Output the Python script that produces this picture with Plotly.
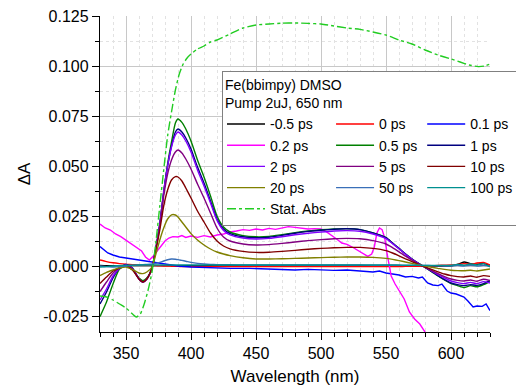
import plotly.graph_objects as go

# ---------------- data ----------------
wl = [330, 335, 340, 345, 350, 355, 360, 363, 366, 370, 373, 376, 379, 382, 385, 388,
      390, 393, 396, 400, 405, 410, 415, 420, 425, 430, 440, 450, 460, 470, 480, 490,
      500, 510, 520, 530, 540, 550, 555, 560, 565, 570, 575, 580, 585, 590, 595, 600,
      605, 610, 615, 620, 625, 630]

d_m05 = [0.0003, 0.0002, 0.0002, 0.0002, 0.0002, 0.0002, 0.0002, 0.0002, 0.0002, 0.0002,
         0.0002, 0.0002, 0.0002, 0.0002, 0.0002, 0.0002, 0.0002, 0.0002, 0.0002, 0.0002,
         0.0002, 0.0002, 0.0002, 0.0002, 0.0002, 0.0002, 0.0002, 0.0002, 0.0002, 0.0002,
         0.0002, 0.0002, 0.0002, 0.0002, 0.0002, 0.0002, 0.0002, 0.0002, 0.0002, 0.0002,
         0.0002, 0.0002, 0.0002, 0.0001, 0.0, 0.0, 0.0, 0.0,
         0.0008, 0.0020, 0.0012, 0.0008, 0.0012, 0.0002]

d_0 = [0.0030, 0.0022, 0.0016, 0.0012, 0.0009, 0.0007, 0.0005, 0.0004, 0.0004, 0.0003,
       0.0002, 0.0001, 0.0, 0.0, -0.0001, -0.0002, -0.0002, -0.0003, -0.0003, -0.0003,
       -0.0003, -0.0003, -0.0003, -0.0003, -0.0003, -0.0003, -0.0003, -0.0003, -0.0003, -0.0003,
       -0.0003, -0.0003, -0.0003, -0.0003, -0.0003, -0.0003, -0.0003, -0.0003, -0.0003, -0.0003,
       -0.0002, -0.0002, -0.0001, 0.0, 0.0001, 0.0003, 0.0004, 0.0005,
       0.0008, 0.0012, 0.0008, 0.0015, 0.0018, 0.0005]

wl_01 = [330, 333, 336, 340, 345, 350, 355, 360, 365, 370, 375, 380, 385, 390, 400, 410,
         420, 430, 445, 460, 470, 480, 490, 500, 510, 520, 530, 540, 545, 550, 555, 560,
         565, 570, 575, 578, 582, 586, 590, 593, 597, 600, 604, 607, 610, 613, 617, 620,
         624, 627, 630]
d_01 = [0.0097, 0.0080, 0.0065, 0.0055, 0.0045, 0.0040, 0.0035, 0.0030, 0.0025, 0.0020,
        0.0015, 0.0010, 0.0005, 0.0, -0.0005, -0.0008, -0.0010, -0.0012, -0.0012, -0.0015,
        -0.0015, -0.0020, -0.0017, -0.0020, -0.0022, -0.0020, -0.0025, -0.0030, -0.0025, -0.0035,
        -0.0040, -0.0045, -0.0055, -0.0052, -0.0060, -0.0055, -0.0085, -0.0095, -0.0098, -0.0090,
        -0.0125, -0.0135, -0.0140, -0.0148, -0.0155, -0.0175, -0.0205, -0.0200, -0.0202, -0.0190,
        -0.0223]

wl_02 = [330, 334, 338, 342, 346, 350, 354, 358, 362, 365, 368, 371, 374, 377, 380, 383,
         386, 390, 393, 396, 400, 405, 410, 415, 420, 425, 430, 435, 440, 445, 450, 455,
         460, 465, 470, 475, 480, 485, 490, 495, 500, 504, 508, 512, 516, 520, 524, 528,
         532, 536, 539, 541, 543, 545, 547, 549, 551, 554, 557, 560, 564, 568, 572, 576,
         578, 581]
d_02 = [0.0210, 0.0190, 0.0180, 0.0160, 0.0147, 0.0130, 0.0113, 0.0095, 0.0075, 0.0045,
        0.0030, 0.0050, 0.0075, 0.0100, 0.0125, 0.0140, 0.0147, 0.0145, 0.0152, 0.0143,
        0.0150, 0.0143, 0.0152, 0.0145, 0.0155, 0.0160, 0.0170, 0.0175, 0.0182, 0.0178,
        0.0185, 0.0180, 0.0188, 0.0183, 0.0190, 0.0197, 0.0193, 0.0190, 0.0185, 0.0187,
        0.0185, 0.0172, 0.0155, 0.0135, 0.0115, 0.0108, 0.0095, 0.0080, 0.0065, 0.0048,
        0.0060, 0.0095, 0.0165, 0.0190, 0.0182, 0.0140, 0.0055, -0.0050, -0.0090, -0.0120,
        -0.0165, -0.0230, -0.0265, -0.0290, -0.0310, -0.0340]

d_05 = [-0.0253, -0.0180, -0.0090, -0.0015, 0.0, -0.0020, -0.0060, -0.0073, -0.0060, -0.0010,
        0.0090, 0.0210, 0.0370, 0.0510, 0.0620, 0.0715, 0.0735, 0.0718, 0.0685, 0.0625,
        0.0530, 0.0445, 0.0350, 0.0250, 0.0195, 0.0170, 0.0152, 0.0146, 0.0148, 0.0157,
        0.0167, 0.0175, 0.0181, 0.0185, 0.0187, 0.0182, 0.0165, 0.0142, 0.0115, 0.0088,
        0.0060, 0.0035, 0.0013, -0.0007, -0.0028, -0.0050, -0.0070, -0.0088,
        -0.0098, -0.0108, -0.0098, -0.0104, -0.0093, -0.0078]

d_1 = [-0.0190, -0.0130, -0.0060, -0.0010, 0.0008, -0.0010, -0.0065, -0.0080, -0.0065, -0.0010,
       0.0090, 0.0210, 0.0370, 0.0500, 0.0600, 0.0670, 0.0685, 0.0670, 0.0640, 0.0585,
       0.0495, 0.0415, 0.0325, 0.0235, 0.0185, 0.0162, 0.0146, 0.0141, 0.0144, 0.0153,
       0.0164, 0.0173, 0.0179, 0.0184, 0.0186, 0.0182, 0.0166, 0.0142, 0.0115, 0.0088,
       0.0060, 0.0035, 0.0013, -0.0007, -0.0027, -0.0048, -0.0068, -0.0085,
       -0.0093, -0.0098, -0.0093, -0.0097, -0.0088, -0.0072]

d_2 = [-0.0170, -0.0115, -0.0050, -0.0012, 0.0005, -0.0015, -0.0065, -0.0080, -0.0065, -0.0010,
       0.0090, 0.0210, 0.0370, 0.0500, 0.0595, 0.0655, 0.0670, 0.0655, 0.0625, 0.0570,
       0.0480, 0.0400, 0.0315, 0.0228, 0.0178, 0.0156, 0.0140, 0.0135, 0.0138, 0.0146,
       0.0156, 0.0164, 0.0170, 0.0175, 0.0177, 0.0174, 0.0160, 0.0137, 0.0112, 0.0086,
       0.0058, 0.0034, 0.0012, -0.0006, -0.0024, -0.0043, -0.0060, -0.0075,
       -0.0083, -0.0088, -0.0082, -0.0088, -0.0078, -0.0085]

d_5 = [-0.0128, -0.0080, -0.0035, -0.0008, 0.0003, -0.0015, -0.0065, -0.0080, -0.0065, -0.0010,
       0.0085, 0.0200, 0.0350, 0.0460, 0.0530, 0.0570, 0.0580, 0.0565, 0.0535, 0.0485,
       0.0410, 0.0340, 0.0265, 0.0190, 0.0145, 0.0125, 0.0110, 0.0105, 0.0107, 0.0113,
       0.0120, 0.0127, 0.0132, 0.0136, 0.0138, 0.0136, 0.0127, 0.0110, 0.0092, 0.0071,
       0.0049, 0.0029, 0.0010, -0.0006, -0.0022, -0.0038, -0.0053, -0.0065,
       -0.0072, -0.0075, -0.0070, -0.0076, -0.0066, -0.0072]

d_10 = [-0.0087, -0.0055, -0.0025, -0.0010, 0.0, -0.0020, -0.0065, -0.0080, -0.0065, -0.0010,
        0.0080, 0.0180, 0.0300, 0.0380, 0.0430, 0.0447, 0.0445, 0.0425, 0.0390, 0.0340,
        0.0275, 0.0220, 0.0165, 0.0125, 0.0100, 0.0086, 0.0073, 0.0068, 0.0069, 0.0073,
        0.0078, 0.0084, 0.0088, 0.0091, 0.0093, 0.0093, 0.0088, 0.0077, 0.0065, 0.0051,
        0.0036, 0.0022, 0.0008, -0.0005, -0.0017, -0.0029, -0.0040, -0.0048,
        -0.0053, -0.0055, -0.0050, -0.0056, -0.0048, -0.0052]

d_20 = [-0.0048, -0.0032, -0.0020, -0.0009, -0.0005, -0.0018, -0.0035, -0.0038, -0.0030, -0.0005,
        0.0060, 0.0130, 0.0190, 0.0235, 0.0256, 0.0255, 0.0245, 0.0220, 0.0195, 0.0162,
        0.0130, 0.0105, 0.0085, 0.0070, 0.0060, 0.0052, 0.0041, 0.0035, 0.0035, 0.0036,
        0.0038, 0.0040, 0.0042, 0.0044, 0.0045, 0.0045, 0.0043, 0.0038, 0.0033, 0.0027,
        0.0020, 0.0013, 0.0006, 0.0, -0.0006, -0.0012, -0.0017, -0.0021,
        -0.0023, -0.0024, -0.0021, -0.0025, -0.0020, -0.0015]

d_50 = [0.0, -0.0003, -0.0005, -0.0003, 0.0, 0.0003, 0.0005, 0.0007, 0.0008, 0.0010,
        0.0013, 0.0018, 0.0025, 0.0031, 0.0035, 0.0034, 0.0032, 0.0028, 0.0024, 0.0018,
        0.0013, 0.0010, 0.0008, 0.0007, 0.0006, 0.0006, 0.0005, 0.0005, 0.0005, 0.0005,
        0.0005, 0.0005, 0.0005, 0.0005, 0.0005, 0.0005, 0.0004, 0.0004, 0.0004, 0.0003,
        0.0003, 0.0003, 0.0003, 0.0003, 0.0002, 0.0001, 0.0, 0.0,
        0.0003, 0.0, 0.0004, 0.0, 0.0003, 0.0]

d_100 = [-0.0005, -0.0003, 0.0, 0.0002, 0.0003, 0.0004, 0.0005, 0.0005, 0.0005, 0.0005,
         0.0005, 0.0005, 0.0005, 0.0005, 0.0005, 0.0005, 0.0005, 0.0005, 0.0005, 0.0005,
         0.0005, 0.0005, 0.0005, 0.0005, 0.0005, 0.0005, 0.0005, 0.0005, 0.0005, 0.0005,
         0.0005, 0.0005, 0.0005, 0.0005, 0.0005, 0.0005, 0.0005, 0.0005, 0.0005, 0.0005,
         0.0004, 0.0004, 0.0003, 0.0003, 0.0003, 0.0003, 0.0003, 0.0003,
         0.0008, 0.0004, 0.0010, 0.0005, 0.0012, -0.0005]

wl_abs = [330, 335, 340, 345, 350, 355, 358, 361, 364, 367, 370, 373, 376, 379, 382, 385,
          388, 391, 394, 397, 400, 405, 410, 415, 420, 430, 440, 450, 460, 470, 480, 490,
          500, 510, 520, 530, 540, 550, 560, 570, 580, 590, 600, 607, 614, 621, 626, 630]
d_abs = [-0.0150, -0.0155, -0.0170, -0.0190, -0.0210, -0.0240, -0.0255, -0.0240, -0.0190, -0.0120,
         -0.0030, 0.0120, 0.0300, 0.0480, 0.0650, 0.0770, 0.0880, 0.0960, 0.1010, 0.1040,
         0.1060, 0.1085, 0.1100, 0.1120, 0.1130, 0.1160, 0.1190, 0.1205, 0.1210, 0.1214,
         0.1215, 0.1213, 0.1210, 0.1200, 0.1190, 0.1183, 0.1170, 0.1155, 0.1130, 0.1110,
         0.1080, 0.1055, 0.1035, 0.1020, 0.1005, 0.0997, 0.1000, 0.1010]

y_tickvals = [-0.025, 0.0, 0.025, 0.05, 0.075, 0.1, 0.125]
y_ticktext = ["-0.025", "0.000", "0.025", "0.050", "0.075", "0.100", "0.125"]
x_tickvals = [350, 400, 450, 500, 550, 600]

# (name, x, y, color, legend column)
series = [
    ("-0.5 ps", wl, d_m05, "#000000", "c1"),
    ("0 ps", wl, d_0, "#FF0000", "c2"),
    ("0.1 ps", wl_01, d_01, "#0000FF", "c3"),
    ("0.2 ps", wl_02, d_02, "#FF00FF", "c1"),
    ("0.5 ps", wl, d_05, "#008000", "c2"),
    ("1 ps", wl, d_1, "#000080", "c3"),
    ("2 ps", wl, d_2, "#8000FF", "c1"),
    ("5 ps", wl, d_5, "#800080", "c2"),
    ("10 ps", wl, d_10, "#800000", "c3"),
    ("20 ps", wl, d_20, "#808000", "c1"),
    ("50 ps", wl, d_50, "#3A6FB8", "c2"),
    ("100 ps", wl, d_100, "#009090", "c3"),
]

FONT = "Arial, Liberation Sans, sans-serif"

fig = go.Figure()
for name, xs, ys, col, grp in series:
    smooth = name not in ("0.1 ps", "0.2 ps")
    fig.add_trace(go.Scatter(
        x=xs, y=ys, mode="lines", name=name, legendgroup=grp,
        line=dict(color=col, width=1.4, shape="spline" if smooth else "linear",
                  smoothing=0.6 if smooth else None),
    ))

fig.add_trace(go.Scatter(
    x=wl_abs, y=d_abs, mode="lines", name="Stat. Abs", legendgroup="c1",
    line=dict(color="#22CC22", width=1.4, dash="dashdot", shape="spline", smoothing=0.6),
))

fig.update_layout(
    width=516, height=386,
    margin=dict(l=100, r=26, t=16, b=54, autoexpand=False),
    paper_bgcolor="white", plot_bgcolor="white",
    font=dict(family=FONT, size=16, color="#000000"),
    showlegend=True,
    legend=dict(
        x=(222 - 100) / 390, y=(332 - 71) / 316, xanchor="left", yanchor="top",
        orientation="h", traceorder="grouped",
        bgcolor="white", bordercolor="#808080", borderwidth=1,
        font=dict(family=FONT, size=14, color="#000000"),
        title=dict(text="Fe(bbimpy) DMSO<br>Pump 2uJ, 650 nm", side="top",
                   font=dict(family=FONT, size=14)),
        tracegroupgap=0, itemwidth=38,
    ),
)

fig.update_xaxes(
    range=[330, 630], tickvals=x_tickvals, ticks="outside", ticklen=7, tickwidth=1.2,
    tickcolor="#000000", showline=True, linecolor="#000000", linewidth=1.3,
    showgrid=True, gridcolor="#C8C8C8", gridwidth=1, zeroline=False,
    tickfont=dict(size=16), automargin=False,
    minor=dict(dtick=10, tick0=330, ticks="outside", ticklen=4, tickcolor="#000000",
               showgrid=True, gridcolor="#E2E2E2", griddash="dot", gridwidth=1),
    title=dict(text="Wavelength (nm)", font=dict(size=17), standoff=10),
)
fig.update_yaxes(
    range=[-0.033, 0.125], tickvals=y_tickvals, ticktext=y_ticktext,
    ticks="outside", ticklen=7, tickwidth=1.2, tickcolor="#000000",
    showline=True, linecolor="#000000", linewidth=1.3,
    showgrid=True, gridcolor="#C8C8C8", gridwidth=1, zeroline=False,
    tickfont=dict(size=16), automargin=False,
    minor=dict(dtick=0.0125, tick0=0, ticks="outside", ticklen=4, tickcolor="#000000",
               showgrid=True, gridcolor="#E2E2E2", griddash="dot", gridwidth=1),
    title=dict(text="ΔA", font=dict(size=17), standoff=8),
)

fig.write_html("out.html")
